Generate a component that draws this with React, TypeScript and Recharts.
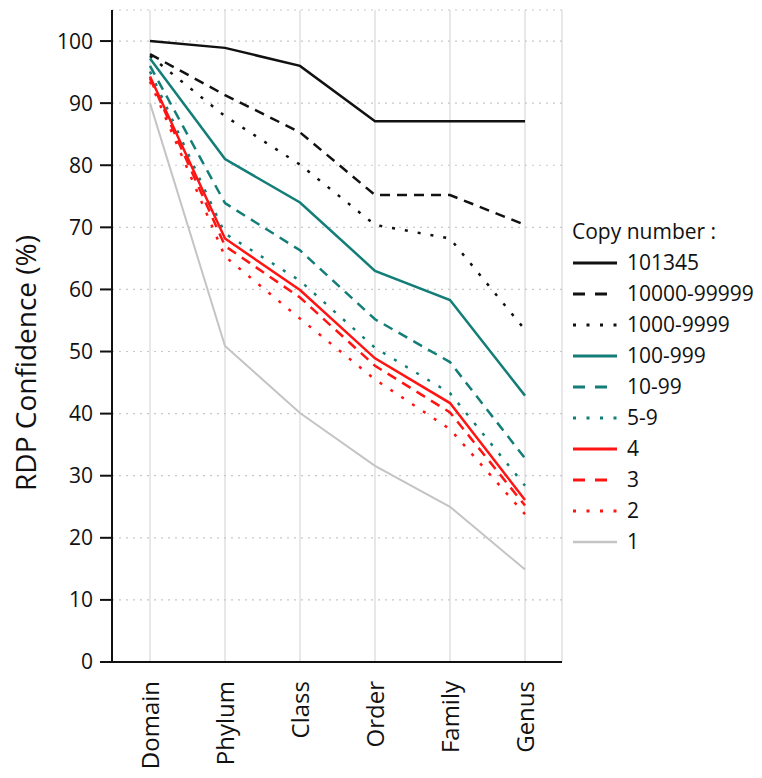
import React from 'react';
import { LineChart, Line, XAxis, YAxis, CartesianGrid, Legend } from 'recharts';

const categories = ['Domain', 'Phylum', 'Class', 'Order', 'Family', 'Genus'];
const s101345 = [100, 98.9, 96, 87.1, 87.1, 87.1];
const s10000 = [97.9, 91.3, 85.3, 75.2, 75.2, 70.4];
const s1000 = [97.6, 87.9, 80.1, 70.4, 68.2, 53.5];
const s100 = [97.2, 81, 74, 63, 58.3, 42.9];
const s10 = [96, 73.9, 66.3, 55.2, 48.3, 32.8];
const s5 = [95.1, 69, 61.4, 50.6, 43.3, 28.4];
const s4 = [94.3, 68.2, 59.9, 48.9, 41.7, 26.1];
const s3 = [94, 67, 58.7, 47.7, 40.2, 25.2];
const s2 = [93.5, 65.3, 55.3, 45.5, 37.5, 23.8];
const s1 = [90, 50.9, 40.1, 31.6, 25, 14.9];
const yTicks = [0, 10, 20, 30, 40, 50, 60, 70, 80, 90, 100];

const BLACK = '#111111';
const TEAL = '#137d78';
const RED = '#ff1414';
const GRAY = '#c4c4c4';
const DASH = '10 7';
const DOT = '3 10';

const series = [
  { key: 's101345', name: '101345', values: s101345, color: BLACK, dash: undefined, width: 2.5 },
  { key: 's10000', name: '10000-99999', values: s10000, color: BLACK, dash: DASH, width: 2.5 },
  { key: 's1000', name: '1000-9999', values: s1000, color: BLACK, dash: DOT, width: 2.5 },
  { key: 's100', name: '100-999', values: s100, color: TEAL, dash: undefined, width: 2.5 },
  { key: 's10', name: '10-99', values: s10, color: TEAL, dash: DASH, width: 2.5 },
  { key: 's5', name: '5-9', values: s5, color: TEAL, dash: DOT, width: 2.5 },
  { key: 's4', name: '4', values: s4, color: RED, dash: undefined, width: 2.5 },
  { key: 's3', name: '3', values: s3, color: RED, dash: DASH, width: 2.5 },
  { key: 's2', name: '2', values: s2, color: RED, dash: DOT, width: 2.5 },
  { key: 's1', name: '1', values: s1, color: GRAY, dash: undefined, width: 2 },
];

const data = categories.map((c, i) => {
  const row: any = { cat: c };
  series.forEach((s) => { row[s.key] = s.values[i]; });
  return row;
});

const FONT = '"Open Sans", sans-serif';

const XTick = (props: any) => {
  const { x, y, payload } = props;
  return (
    <g transform={`translate(${x},${y + 11})`}>
      <text transform="rotate(-90)" textAnchor="end" dy="0.36em" fontFamily={FONT} fontSize={24} fill="#111">
        {payload.value}
      </text>
    </g>
  );
};

const LegendContent = () => (
  <div style={{ fontFamily: FONT, fontSize: 21, color: '#111', lineHeight: '31px' }}>
    <div style={{ whiteSpace: 'nowrap' }}>Copy number :</div>
    {series.map((s) => (
      <div key={s.key} style={{ display: 'flex', alignItems: 'center', height: 31, whiteSpace: 'nowrap' }}>
        <svg width={46} height={10} style={{ marginRight: 9 }}>
          <line x1={1} y1={5} x2={45} y2={5} stroke={s.color} strokeWidth={s.width + 0.5} strokeDasharray={s.dash === DOT ? '3 10.5' : s.dash === DASH ? '12 10' : undefined} />
        </svg>
        <span>{s.name}</span>
      </div>
    ))}
  </div>
);

export default function App() {
  return (
    <LineChart width={746} height={762} data={data} margin={{ top: 2, right: 2, bottom: 0, left: 0 }}>
      <CartesianGrid horizontal={false} vertical={true} stroke="#d9d9d9" strokeWidth={1.2} />
      <CartesianGrid horizontal={true} vertical={false} stroke="#c8c8c8" strokeDasharray="2 5" strokeWidth={1.2} />
      <XAxis
        dataKey="cat"
        type="category"
        padding={{ left: 38, right: 37 }}
        height={108}
        tickLine={false}
        axisLine={{ stroke: '#111', strokeWidth: 2 }}
        tick={<XTick />}
        interval={0}
      />
      <YAxis
        type="number"
        domain={[0, 105]}
        ticks={yTicks}
        width={104}
        tickSize={12}
        tickMargin={7}
        tickLine={{ stroke: '#111', strokeWidth: 2 }}
        axisLine={{ stroke: '#111', strokeWidth: 2 }}
        tick={{ fontFamily: FONT, fontSize: 21, fill: '#111' }}
        label={{ value: 'RDP Confidence (%)', angle: -90, position: 'insideLeft', offset: 0, dx: 18, dy: 27, style: { fontFamily: FONT, fontSize: 28, fill: '#111', textAnchor: 'middle' } }}
      />
      <Legend
        layout="vertical"
        align="right"
        verticalAlign="top"
        content={<LegendContent />}
        wrapperStyle={{ left: 564, top: 208, width: 190 }}
      />
      {series.map((s) => (
        <Line
          key={s.key}
          dataKey={s.key}
          name={s.name}
          type="linear"
          stroke={s.color}
          strokeWidth={s.width}
          strokeDasharray={s.dash}
          dot={false}
          activeDot={false}
          isAnimationActive={false}
        />
      ))}
    </LineChart>
  );
}
